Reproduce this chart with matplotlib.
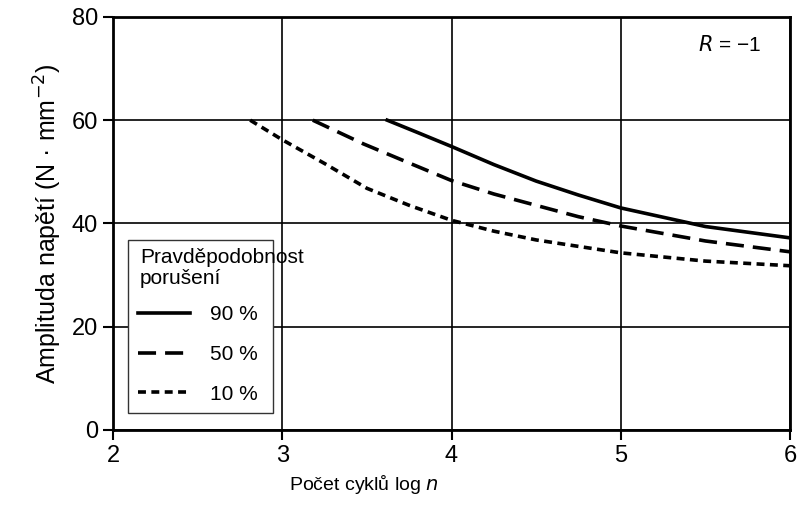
import matplotlib.pyplot as plt
from matplotlib.lines import Line2D
from matplotlib.patches import Rectangle

plt.rcParams['font.family'] = ['Liberation Sans', 'DejaVu Sans']

# pravdepodobnost poruseni 90 % (solid)
x90 = [3.62, 3.8, 4.0, 4.25, 4.5, 4.75, 5.0, 5.5, 6.0]
y90 = [60.0, 57.6, 54.9, 51.4, 48.2, 45.5, 43.0, 39.4, 37.2]

# 50 % (long dashes)
x50 = [3.18, 3.48, 3.75, 4.0, 4.25, 4.5, 4.75, 5.0, 5.5, 6.0]
y50 = [60.0, 55.4, 51.7, 48.3, 45.7, 43.5, 41.3, 39.5, 36.6, 34.5]

# 10 % (short dashes)
x10 = [2.81, 3.0, 3.25, 3.5, 3.75, 4.0, 4.25, 4.5, 5.0, 5.5, 6.0]
y10 = [60.0, 56.2, 51.6, 46.8, 43.5, 40.6, 38.5, 36.8, 34.3, 32.7, 31.8]

labels = ['90 %', '50 %', '10 %']
xticks = [2, 3, 4, 5, 6]
yticks = [0, 20, 40, 60, 80]

solid = '-'
long_dash = (0, (5, 2.5))
short_dash = (0, (2.2, 1.5))

fig = plt.figure(figsize=(8.02, 5.13), dpi=100)
ax = fig.add_axes([0.141, 0.162, 0.844, 0.805])

ax.set_xlim(2, 6)
ax.set_ylim(0, 80)
ax.set_xticks(xticks)
ax.set_yticks(yticks)
ax.grid(True, color='black', linewidth=1.2)
ax.set_axisbelow(True)
for s in ax.spines.values():
    s.set_linewidth(2)
ax.tick_params(direction='out', length=7, width=1.5, labelsize=17, pad=4)

ax.plot(x90, y90, color='black', lw=2.6, ls=solid)
ax.plot(x50, y50, color='black', lw=2.6, ls=long_dash)
ax.plot(x10, y10, color='black', lw=2.6, ls=short_dash)

ax.set_xlabel('Počet cyklů log $n$', fontsize=14)
ax.xaxis.set_label_coords(0.371, -0.105)
ax.set_ylabel('Amplituda napětí (N · mm$^{-2}$)', fontsize=18, labelpad=5)

ax.text(5.83, 74.5, '$R$ = −1', ha='right', va='center', fontsize=15)

# legend box (title runs over the right edge like in the print)
ax.add_patch(Rectangle((2.089, 3.3), 0.856, 33.5, facecolor='white',
                       edgecolor='#333333', lw=1.0, zorder=3))
ax.text(2.16, 35.3, 'Pravděpodobnost\nporušení', ha='left', va='top',
        fontsize=15, linespacing=1.15, zorder=4)

handles = [
    Line2D([], [], color='black', lw=2.6, ls=solid),
    Line2D([], [], color='black', lw=2.6, ls=long_dash),
    Line2D([], [], color='black', lw=2.6, ls=short_dash),
]
leg = ax.legend(handles, labels, fontsize=15, loc='upper left',
                bbox_to_anchor=(2.148, 24.2), bbox_transform=ax.transData,
                handlelength=2.5, handletextpad=0.95, labelspacing=1.0,
                frameon=False, borderpad=0, borderaxespad=0)
leg.set_zorder(5)

fig.savefig('out.png', dpi=100)
